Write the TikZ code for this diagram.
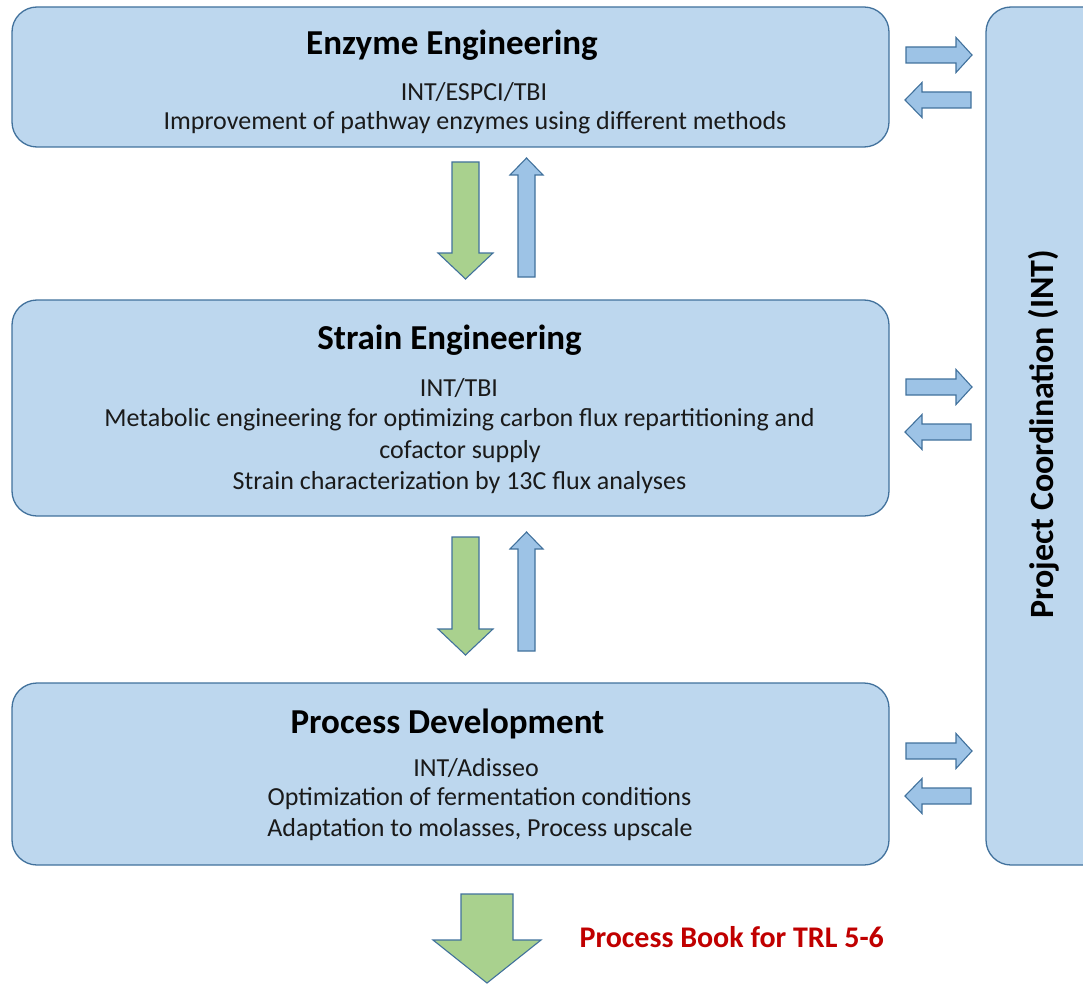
\documentclass[tikz,border=0pt]{standalone}
\usepackage{fontspec}
\setmainfont{Carlito}
\definecolor{boxfill}{HTML}{BDD7EE}
\definecolor{boxline}{HTML}{41719C}
\definecolor{arrowblue}{HTML}{9DC3E6}
\definecolor{arrowgreen}{HTML}{A9D18E}
\definecolor{textred}{HTML}{C00000}
\definecolor{textdark}{HTML}{1A1A1A}
\tikzset{
  panel/.style={draw=boxline, fill=boxfill, line width=1.3pt, rounded corners=25pt, inner sep=0pt},
  title/.style={font=\fontsize{35}{40}\selectfont\bfseries, text=black},
  body/.style={font=\fontsize{26}{30}\selectfont, text=textdark},
  bluearrow/.style={draw=boxline, fill=arrowblue, line width=1.1pt, line join=miter},
  greenarrow/.style={draw=boxline, fill=arrowgreen, line width=1.1pt, line join=miter},
}
% horizontal block arrows towards / from the coordination column
\newcommand\toright[1]{\draw[bluearrow] (906,#1-8) -- (956,#1-8) -- (956,#1-17.5) -- (972,#1) -- (956,#1+17.5) -- (956,#1+8) -- (906,#1+8) -- cycle;}
\newcommand\toleft[1]{\draw[bluearrow] (971,#1-8) -- (922,#1-8) -- (922,#1-17.5) -- (905,#1) -- (922,#1+17.5) -- (922,#1+8) -- (971,#1+8) -- cycle;}
% vertical block arrows between the work packages
\newcommand\downgreen[2]{\draw[greenarrow] (452,#1) -- (479,#1) -- (479,#2-26) -- (493,#2-26) -- (465.5,#2) -- (438,#2-26) -- (452,#2-26) -- cycle;}
\newcommand\upblue[2]{\draw[bluearrow] (518,#2) -- (535,#2) -- (535,#1+17) -- (543,#1+17) -- (526.5,#1) -- (510,#1+17) -- (518,#1+17) -- cycle;}
\begin{document}
\begin{tikzpicture}[x=1pt,y=-1pt]
\useasboundingbox (0,0) rectangle (1083,984);

% work package panels
\node[panel, minimum width=877pt, minimum height=140pt] (enz) at (450.5,77) {};
\node[panel, minimum width=877pt, minimum height=216pt] (str) at (450.5,408) {};
\node[panel, minimum width=877pt, minimum height=182pt] (proc) at (450.5,774) {};
\node[panel, minimum width=130pt, minimum height=858pt] (coord) at (1051,436) {};

% texts
\node[title] (enzT) at (452,45) {Enzyme Engineering};
\node[body] (enz1) at (474,92) {INT/ESPCI/TBI};
\node[body] (enz2) at (475,123) {Improvement of pathway enzymes using different methods};

\node[title] (strT) at (449.5,340) {Strain Engineering};
\node[body] (str1) at (459,388) {INT/TBI};
\node[body] (str2) at (459.5,420) {Metabolic engineering for optimizing carbon flux repartitioning and};
\node[body] (str3) at (460,452) {cofactor supply};
\node[body] (str4) at (459.5,483) {Strain characterization by 13C flux analyses};

\node[title] (procT) at (447.5,724) {Process Development};
\node[body] (proc1) at (476,768) {INT/Adisseo};
\node[body] (proc2) at (479.5,799) {Optimization of fermentation conditions};
\node[body] (proc3) at (480,830) {Adaptation to molasses, Process upscale};

\node[font=\fontsize{34}{38}\selectfont\bfseries, rotate=90] (coordT) at (1044,434) {Project Coordination (INT)};

\node[font=\fontsize{30}{34}\selectfont\bfseries, text=textred, anchor=west] (out) at (576,937) {Process Book for TRL 5-6};

% exchanges with the coordination
\toright{55}\toleft{100}
\toright{387}\toleft{432}
\toright{751}\toleft{796}

% flow between work packages
\downgreen{162}{279}\upblue{158}{277}
\downgreen{537}{655}\upblue{532}{651}

% final output
\draw[greenarrow] (461,894) -- (513,894) -- (513,940) -- (541,940) -- (487,983) -- (433,940) -- (461,940) -- cycle;
\end{tikzpicture}
\end{document}
